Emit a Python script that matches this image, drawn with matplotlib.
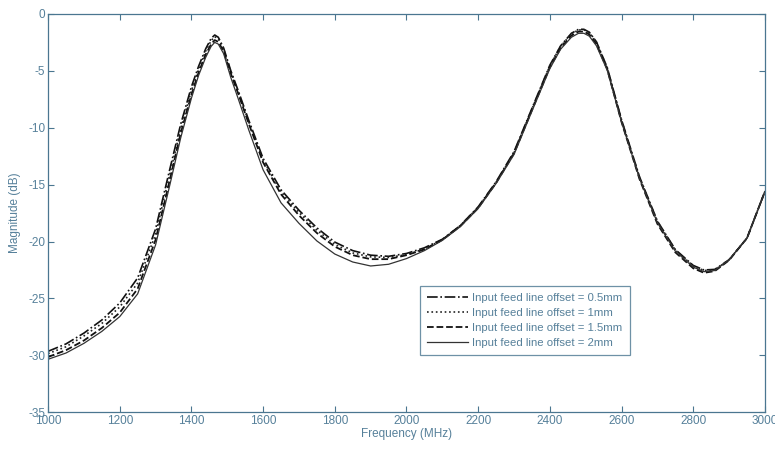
import matplotlib
matplotlib.use("Agg")
import matplotlib.pyplot as plt

plt.rcParams["font.family"] = ["Liberation Sans Narrow", "Liberation Sans", "DejaVu Sans"]
plt.rcParams["axes.unicode_minus"] = False

# Frequency sweep (MHz) and measured |S21| for each feed line offset (dB)
freq = [1000, 1050, 1100, 1150, 1200, 1250, 1300, 1340, 1370, 1400, 1420, 1440,
        1455, 1465, 1475, 1490, 1510, 1530, 1560, 1600, 1650, 1700, 1750, 1800,
        1850, 1900, 1950, 2000, 2050, 2100, 2150, 2200, 2250, 2300, 2350, 2400,
        2430, 2460, 2480, 2495, 2510, 2530, 2560, 2600, 2650, 2700, 2750, 2800,
        2830, 2860, 2900, 2950, 3000]

mag_05mm = [-29.65, -29.0, -28.05, -26.9, -25.4, -23.2, -18.9, -13.6, -9.7, -6.4, -4.6, -3.05,
            -2.15, -1.85, -2.05, -3.0, -5.0, -6.7, -9.35, -12.7, -15.45, -17.25, -18.8, -20.05,
            -20.8, -21.2, -21.3, -21.05, -20.55, -19.8, -18.6, -16.95, -14.75, -12.1, -8.3, -4.5,
            -2.8, -1.7, -1.35, -1.35, -1.6, -2.45, -4.7, -9.3, -14.3, -18.2, -20.7, -22.1,
            -22.5, -22.45, -21.6, -19.7, -15.6]

mag_1mm = [-29.85, -29.25, -28.3, -27.2, -25.75, -23.65, -19.35, -14.05, -10.1, -6.75, -4.85, -3.25,
           -2.35, -2.0, -2.2, -3.1, -5.1, -6.8, -9.5, -12.85, -15.65, -17.45, -19.0, -20.25,
           -21.0, -21.35, -21.4, -21.15, -20.65, -19.85, -18.6, -17.0, -14.8, -12.2, -8.35, -4.55,
           -2.85, -1.75, -1.4, -1.4, -1.65, -2.5, -4.75, -9.35, -14.35, -18.25, -20.75, -22.15,
           -22.55, -22.5, -21.6, -19.7, -15.6]

mag_15mm = [-30.15, -29.55, -28.7, -27.6, -26.25, -24.15, -19.85, -14.55, -10.5, -7.1, -5.15, -3.55,
            -2.65, -2.3, -2.45, -3.3, -5.25, -6.95, -9.65, -13.05, -15.85, -17.7, -19.25, -20.45,
            -21.2, -21.55, -21.55, -21.2, -20.7, -19.85, -18.65, -17.05, -14.85, -12.25, -8.45, -4.7,
            -3.0, -1.9, -1.55, -1.55, -1.8, -2.65, -4.85, -9.5, -14.5, -18.45, -20.95, -22.35,
            -22.75, -22.6, -21.65, -19.7, -15.6]

mag_2mm = [-30.35, -29.8, -28.95, -27.9, -26.6, -24.6, -20.3, -15.0, -10.9, -7.4, -5.4, -3.8,
           -2.85, -2.5, -2.65, -3.5, -5.6, -7.4, -10.2, -13.7, -16.6, -18.4, -19.95, -21.1,
           -21.8, -22.15, -22.0, -21.5, -20.8, -19.9, -18.7, -17.1, -14.9, -12.35, -8.55, -4.8,
           -3.1, -2.05, -1.7, -1.7, -1.95, -2.8, -4.95, -9.5, -14.45, -18.35, -20.85, -22.25,
           -22.65, -22.55, -21.6, -19.7, -15.6]

labels = ["Input feed line offset = 0.5mm", "Input feed line offset = 1mm",
          "Input feed line offset = 1.5mm", "Input feed line offset = 2mm"]

x_ticks = list(range(1000, 3001, 200))
y_ticks = list(range(-35, 1, 5))

frame = "#4a7690"
text_col = "#56809a"

fig = plt.figure(figsize=(7.75, 4.5), dpi=100)
ax = fig.add_axes([0.062, 0.084, 0.925, 0.885])

ax.plot(freq, mag_05mm, color="#111111", linestyle="-.", linewidth=1.2, label=labels[0])
ax.plot(freq, mag_1mm, color="#222222", linestyle=":", linewidth=1.2, label=labels[1])
ax.plot(freq, mag_15mm, color="#111111", linestyle="--", linewidth=1.3, label=labels[2])
ax.plot(freq, mag_2mm, color="#333333", linestyle="-", linewidth=0.9, label=labels[3])

ax.set_xlim(1000, 3000)
ax.set_ylim(-35, 0)
ax.set_xticks(x_ticks)
ax.set_yticks(y_ticks)
ax.tick_params(direction="in", top=True, right=True, length=4, width=0.8,
               color=frame, labelcolor=text_col, labelsize=8.5, pad=2)
for spine in ax.spines.values():
    spine.set_color(frame)
    spine.set_linewidth(0.9)

ax.set_xlabel("Frequency (MHz)", color=text_col, fontsize=8.5, labelpad=1)
ax.set_ylabel("Magnitude (dB)", color=text_col, fontsize=8.5, labelpad=5)

leg = ax.legend(loc="lower left", bbox_to_anchor=(0.519, 0.143), fontsize=8.2,
                frameon=True, fancybox=False, handlelength=3.6, handletextpad=0.4,
                borderpad=0.6, labelspacing=0.45, borderaxespad=0)
leg.get_frame().set_edgecolor(frame)
leg.get_frame().set_linewidth(0.9)
for t in leg.get_texts():
    t.set_color(text_col)

fig.savefig("out.png", dpi=100, facecolor="white")
